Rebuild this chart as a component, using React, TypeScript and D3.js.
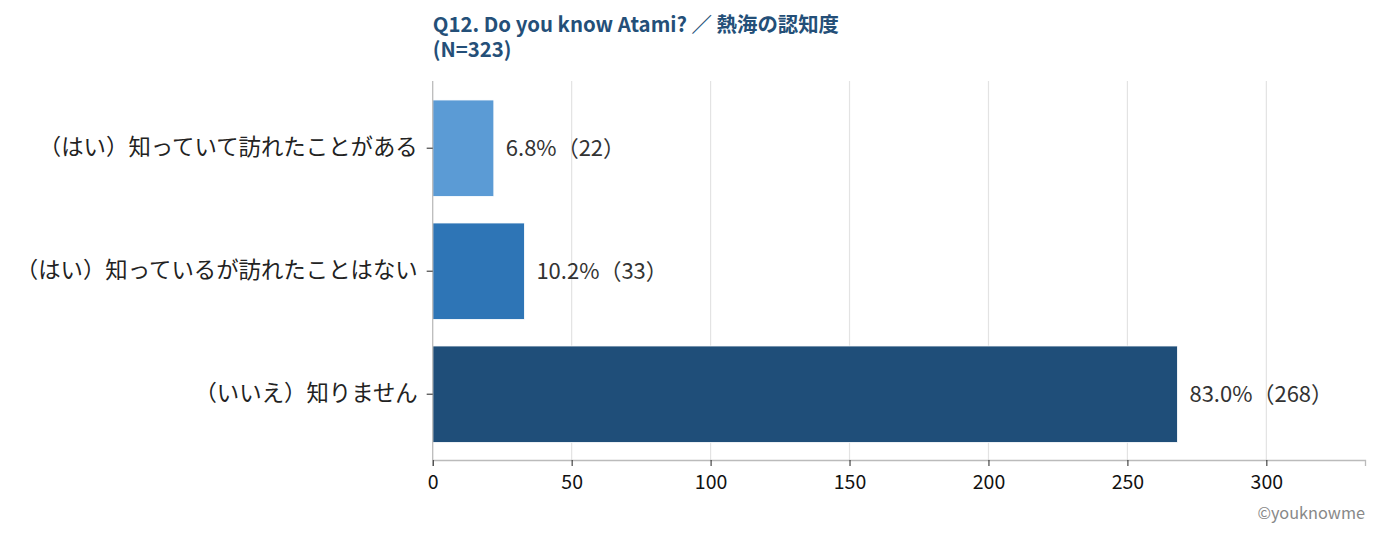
import { useEffect, useRef } from 'react';
import * as d3 from 'd3';

const categories = [
  '（はい）知っていて訪れたことがある',
  '（はい）知っているが訪れたことはない',
  '（いいえ）知りません',
];
const counts = [22, 33, 268];
const percents = ['6.8%', '10.2%', '83.0%'];
const barColors = ['#5b9bd5', '#2e75b6', '#1f4e79'];
const xTicks = [0, 50, 100, 150, 200, 250, 300];
const titleLines = ['Q12. Do you know Atami? ／ 熱海の認知度', '(N=323)'];
const credit = '©youknowme';

const FONT = '"Noto Sans CJK JP", "Noto Sans", sans-serif';

export default function App() {
  const svgRef = useRef<SVGSVGElement | null>(null);

  useEffect(() => {
    const width = 1380;
    const height = 538;
    const margin = { top: 81, right: 15, bottom: 78, left: 432.7 };

    const svg = d3.select(svgRef.current);
    svg.selectAll('*').remove();
    svg.attr('width', width).attr('height', height);

    const x = d3.scaleLinear()
      .domain([0, 335.5])
      .range([margin.left, width - margin.right]);

    const y = d3.scaleBand()
      .domain(categories)
      .range([86.7, 455.7])
      .paddingInner(0.216)
      .paddingOuter(0.108);

    const baseY = height - margin.bottom;

    // grid
    svg.append('g')
      .selectAll('line')
      .data(xTicks.filter(t => t > 0))
      .enter()
      .append('line')
      .attr('x1', d => x(d))
      .attr('x2', d => x(d))
      .attr('y1', margin.top)
      .attr('y2', baseY)
      .attr('stroke', '#e3e3e3')
      .attr('stroke-width', 1.2);

    // bars
    svg.append('g')
      .selectAll('rect')
      .data(categories)
      .enter()
      .append('rect')
      .attr('x', x(0))
      .attr('y', d => y(d)!)
      .attr('width', (_, i) => x(counts[i]) - x(0))
      .attr('height', y.bandwidth())
      .attr('fill', (_, i) => barColors[i])
      .attr('stroke', '#ffffff')
      .attr('stroke-width', 0.8);

    // value labels
    svg.append('g')
      .selectAll('text')
      .data(categories)
      .enter()
      .append('text')
      .attr('x', (_, i) => x(counts[i]) + 12)
      .attr('y', d => y(d)! + y.bandwidth() / 2)
      .attr('dy', '0.35em')
      .attr('font-family', FONT)
      .attr('font-size', 22)
      .attr('fill', '#333')
      .text((_, i) => `${percents[i]}（${counts[i]}）`);

    // x axis
    const xAxis = svg.append('g')
      .attr('transform', `translate(0,${baseY})`)
      .call(d3.axisBottom(x).tickValues(xTicks).tickSize(6).tickPadding(9));
    xAxis.select('.domain').attr('stroke', '#bbbbbb').attr('stroke-width', 1.3);
    xAxis.selectAll('.tick line').attr('stroke', '#222');
    xAxis.selectAll('.tick text')
      .attr('font-family', FONT)
      .attr('font-size', 19.5)
      .attr('fill', '#111');

    // y axis
    const yAxis = svg.append('g')
      .attr('transform', `translate(${margin.left},0)`)
      .call(d3.axisLeft(y).tickSize(6).tickPadding(9).tickSizeOuter(0));
    yAxis.select('.domain')
      .attr('d', `M0,${margin.top}V${baseY}`)
      .attr('stroke', '#bbbbbb')
      .attr('stroke-width', 1.3);
    yAxis.selectAll('.tick line').attr('stroke', '#222');
    yAxis.selectAll('.tick text')
      .attr('font-family', FONT)
      .attr('font-size', 22.4)
      .attr('fill', '#222');

    // title (two lines in one text element)
    svg.append('text')
      .attr('x', margin.left)
      .attr('y', 31.5)
      .attr('font-family', FONT)
      .attr('font-weight', 'bold')
      .attr('font-size', 20.4)
      .attr('fill', '#244f78')
      .selectAll('tspan')
      .data(titleLines)
      .enter()
      .append('tspan')
      .attr('x', margin.left)
      .attr('dy', (_, i) => (i === 0 ? 0 : 25))
      .text(d => d);

    // credit
    svg.append('text')
      .attr('x', width - margin.right)
      .attr('y', 519)
      .attr('text-anchor', 'end')
      .attr('font-family', FONT)
      .attr('font-size', 16.3)
      .attr('fill', '#888')
      .text(credit);
  }, []);

  return (
    <svg
      ref={svgRef}
      style={{ position: 'absolute', left: 0, top: 0, background: '#fff' }}
    />
  );
}
